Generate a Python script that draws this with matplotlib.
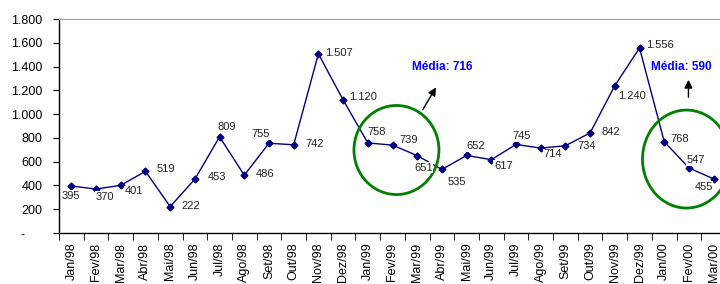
import matplotlib

matplotlib.use("Agg")
import matplotlib.pyplot as plt
from matplotlib.patches import Ellipse
from matplotlib.ticker import FuncFormatter, FixedLocator

plt.rcParams["font.family"] = ["Liberation Sans", "DejaVu Sans"]

# dados
meses = ["Jan/98", "Fev/98", "Mar/98", "Abr/98", "Mai/98", "Jun/98", "Jul/98",
         "Ago/98", "Set/98", "Out/98", "Nov/98", "Dez/98", "Jan/99", "Fev/99",
         "Mar/99", "Abr/99", "Mai/99", "Jun/99", "Jul/99", "Ago/99", "Set/99",
         "Out/99", "Nov/99", "Dez/99", "Jan/00", "Fev/00", "Mar/00"]
valores = [395, 370, 401, 519, 222, 453, 809, 486, 755, 742, 1507, 1120, 758,
           739, 651, 535, 652, 617, 745, 714, 734, 842, 1240, 1556, 768, 547, 455]
media_99 = 716
media_00 = 590

# deslocamento dos rótulos (pixels)
desloc = [(-1, -10), (9, -8), (13, -6), (20, 2), (21, 1), (22, 2), (7, 10),
          (21, 1), (-8, 9), (21, 1), (21, 1), (20, 3), (9, 11), (16, 5),
          (6, -12), (15, -13), (9, 9), (12, -6), (6, 8), (12, -6), (21, 0),
          (21, 1), (17, -10), (20, 3), (15, 3), (7, 8), (-10, -8)]

azul = "#000080"


def fmt_br(v):
    return f"{v:,.0f}".replace(",", ".")


fig = plt.figure(figsize=(7.2, 2.84), dpi=100)
ax = fig.add_axes([59 / 720, 51 / 284, 667 / 720, 214 / 284])

x = list(range(len(meses)))
ax.plot(x, valores, color=azul, lw=1, marker="D", ms=3.5, zorder=2)

for xi, v, (dx, dy) in zip(x, valores, desloc):
    ax.annotate(fmt_br(v), (xi, v), xytext=(dx, dy), textcoords="offset pixels",
                ha="center", va="center", fontsize=8, color="#222222", zorder=4,
                bbox=dict(boxstyle="square,pad=0.05", fc="white", ec="none"))

# médias
ax.text(15.0, 1396, f"Média: {media_99}", color="#0000ff", fontsize=8.5,
        fontweight="bold", ha="center", va="center")
ax.text(24.7, 1396, f"Média: {media_00}", color="#0000ff", fontsize=8.5,
        fontweight="bold", ha="center", va="center")
ax.annotate("", xy=(14.82, 1245), xytext=(14.17, 1018),
            arrowprops=dict(arrowstyle="-|>", color="black", lw=1, mutation_scale=12))
ax.annotate("", xy=(24.98, 1312), xytext=(24.98, 1119),
            arrowprops=dict(arrowstyle="-|>", color="black", lw=1, mutation_scale=12))

ax.add_patch(Ellipse((13.16, 698), 3.44, 749, fill=False, ec="#008000", lw=2, zorder=3))
ax.add_patch(Ellipse((24.9, 622), 3.56, 824, fill=False, ec="#008000", lw=2, zorder=3))

ax.set_xlim(-0.5, 26.5)
ax.set_ylim(0, 1800)
ax.set_yticks(range(0, 1801, 200))
ax.yaxis.set_major_formatter(FuncFormatter(lambda v, p: "-     " if v == 0 else fmt_br(v)))
ax.tick_params(axis="y", labelsize=9, length=4, direction="out", pad=8)

ax.set_xticks(x)
ax.set_xticklabels(meses, rotation=90, fontsize=9)
ax.xaxis.set_minor_locator(FixedLocator([i - 0.5 for i in range(len(meses) + 1)]))
ax.tick_params(axis="x", which="major", length=0, pad=7)
ax.tick_params(axis="x", which="minor", length=5, direction="out")

ax.spines["top"].set_color("#a0a0a0")
ax.spines["right"].set_visible(False)
for s in ("left", "bottom"):
    ax.spines[s].set_linewidth(1)

fig.savefig("out.png", dpi=100)
